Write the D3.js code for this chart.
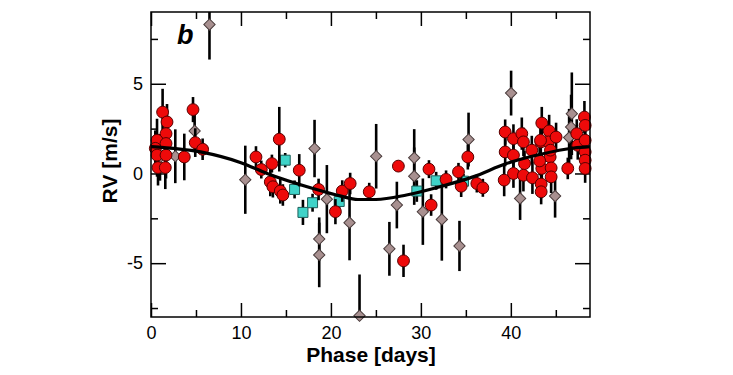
<!DOCTYPE html>
<html>
<head>
<meta charset="utf-8">
<script src="https://cdn.jsdelivr.net/npm/d3@7"></script>
<style>
  body { margin: 0; background: #fff; }
  text { font-family: Arial, "Liberation Sans", sans-serif; }
</style>
</head>
<body>
<svg id="chart" width="733" height="375"></svg>
<script>
// red circles (main data set)
var redPhase = [1.29, 1.78, 1.67, 0.67, 1.67, 0.48, 0.67, 1.67, 0.78, 1.59, 4.67, 4.92, 5.74, 3.7,
    11.67, 12.26, 14.26, 13.44, 13.26, 13.55, 14.37, 14.66, 16.48, 18.63, 20.5, 21.26, 22.14,
    24.26, 27.5, 28.07, 30.9, 31.14, 32.8, 34.18, 34.48, 35.22, 36.22, 36.89,
    39.37, 39.37, 39.26, 40.29, 40.29, 40.29, 41.22, 41.4, 41.52, 41.4, 42.33, 42.4,
    43.33, 43.44, 43.44, 43.37, 43.37, 44.26, 44.18, 44.37, 44.48, 44.48, 45.03, 46.33,
    47.33, 47.44, 48.18, 48.26, 48.26, 48.26, 48.26, 48.26, 43.3, 44.4, 43.2];
var redRV = [3.42, 2.87, 2.22, 1.85, 1.67, 1.4, 1.02, 1.02, 0.33, 0.33, 3.56, 1.72, 1.35, 0.92,
    0.92, 0.22, 1.91, 0.55, -0.47, -0.74, -0.98, -1.2, 0.18, -0.89, -2.13, -0.98, -0.56,
    -1.02, 0.41, -4.87, 0.24, -1.76, -0.33, 0.09, -0.71, 0.92, -0.56, -0.8,
    2.31, 1.2, -0.37, 1.94, 1.02, 0.0, 2.22, 1.76, 0.55, -0.1, 1.3, -0.24,
    1.76, 2.81, 0.28, -0.59, -1.02, 2.37, 1.76, 0.92, 0.31, -0.19, 2.03, 0.28,
    2.22, 1.57, 3.14, 2.68, 1.85, 1.2, 0.74, 0.28, 1.85, 1.3, 0.7];
var redErr = [1.3, 1.0, 1.1, 1.2, 1.1, 1.0, 1.2, 1.3, 1.0, 1.2, 0.7, 0.8, 0.6, 1.3,
    0.6, 0.5, 1.8, 0.5, 0.8, 0.6, 0.7, 0.6, 0.9, 0.6, 0.7, 0.6, 0.6,
    0.5, 0.3, 0.9, 0.5, 0.6, 0.5, 0.5, 0.6, 0.7, 0.5, 0.5,
    0.7, 0.8, 0.9, 0.8, 0.7, 0.8, 0.9, 0.8, 0.7, 0.9, 0.8, 0.9,
    0.8, 0.9, 0.8, 0.8, 0.7, 0.9, 0.8, 0.8, 0.8, 0.9, 0.8, 0.6,
    0.8, 0.8, 0.9, 0.8, 0.8, 0.8, 0.8, 0.8, 0.8, 0.8, 0.8];

// grey diamonds
var diaPhase = [6.5, 4.85, 2.7, 1.0, 10.48, 18.18, 19.55, 18.7, 18.7, 22.07, 23.18, 25.03, 26.5, 27.33,
    29.26, 29.26, 30.22, 32.33, 34.29, 35.3, 40.03, 41.03, 44.92, 46.78, 46.7, 46.48];
var diaRV = [8.3, 2.37, 0.96, 0.9, -0.35, 1.39, -1.43, -3.65, -4.54, -2.74, -7.93, 0.96, -4.2, -1.76,
    0.87, -0.15, -2.13, -2.56, -4.04, 1.89, 4.48, -1.39, -1.26, 3.33, 2.59, 2.0];
var diaErr = [1.95, 1.0, 1.5, 1.3, 1.9, 1.6, 1.9, 1.2, 1.8, 2.1, 2.3, 1.8, 1.5, 1.3,
    1.6, 1.6, 1.85, 2.3, 1.4, 1.5, 1.25, 1.2, 1.2, 2.3, 1.8, 1.6];

// cyan squares
var cyanPhase = [14.92, 15.96, 16.89, 17.96, 20.92, 29.55, 31.7, 34.74];
var cyanRV = [0.74, -0.89, -2.17, -1.63, -1.56, -0.98, -0.41, -0.43];
var cyanErr = [0.4, 0.5, 0.7, 0.5, 0.5, 0.6, 0.5, 0.4];

// model curve
var curvePhase = [0, 5.5, 10, 12.9, 18.1, 21, 23, 25, 28.4, 32.1, 35.8, 39.5, 43.3, 47, 48.8];
var curveRV = [1.5, 1.2, 0.6, 0.0, -0.85, -1.25, -1.45, -1.45, -1.2, -0.74, -0.19, 0.55, 1.07, 1.42, 1.5];

var xMajor = [0, 10, 20, 30, 40];
var xMinor = [5, 15, 25, 35, 45];
var yMajor = [-5, 0, 5];
var yMinor = [-7.5, -2.5, 2.5, 7.5];

var svg = d3.select("#chart");
var margin = {top: 12, right: 143, bottom: 58, left: 151};
var width = 733 - margin.left - margin.right;
var height = 375 - margin.top - margin.bottom;

var x = d3.scaleLinear().domain([0, 48.8]).range([0, width]);
var y = d3.scaleLinear().domain([-8, 9]).range([height, 0]);

var g = svg.append("g").attr("transform", "translate(" + margin.left + "," + margin.top + ")");

g.append("clipPath").attr("id", "clip")
    .append("rect").attr("width", width).attr("height", height);

function styleAxis(sel) {
    sel.select(".domain").remove();
    sel.selectAll(".tick line").attr("stroke", "#000").attr("stroke-width", 1.5);
    sel.selectAll(".tick text").attr("fill", "#000").style("font-size", "18px");
}

var plain = function(d) { return String(d); };   // keep the ascii hyphen

// bottom axis with labels
g.append("g").attr("transform", "translate(0," + height + ")")
    .call(d3.axisBottom(x).tickValues(xMajor).tickSizeInner(-14).tickSizeOuter(0).tickPadding(9).tickFormat(plain))
    .call(styleAxis);
g.append("g").attr("transform", "translate(0," + height + ")")
    .call(d3.axisBottom(x).tickValues(xMinor).tickSizeInner(-7).tickSizeOuter(0).tickFormat(""))
    .call(styleAxis);
// top axis
g.append("g")
    .call(d3.axisTop(x).tickValues(xMajor).tickSizeInner(-14).tickSizeOuter(0).tickFormat(""))
    .call(styleAxis);
g.append("g")
    .call(d3.axisTop(x).tickValues(xMinor).tickSizeInner(-7).tickSizeOuter(0).tickFormat(""))
    .call(styleAxis);
// left axis with labels
g.append("g")
    .call(d3.axisLeft(y).tickValues(yMajor).tickSizeInner(-15).tickSizeOuter(0).tickPadding(8).tickFormat(plain))
    .call(styleAxis);
g.append("g")
    .call(d3.axisLeft(y).tickValues(yMinor).tickSizeInner(-7).tickSizeOuter(0).tickFormat(""))
    .call(styleAxis);
// right axis
g.append("g").attr("transform", "translate(" + width + ",0)")
    .call(d3.axisRight(y).tickValues(yMajor).tickSizeInner(-15).tickSizeOuter(0).tickFormat(""))
    .call(styleAxis);
g.append("g").attr("transform", "translate(" + width + ",0)")
    .call(d3.axisRight(y).tickValues(yMinor).tickSizeInner(-7).tickSizeOuter(0).tickFormat(""))
    .call(styleAxis);

var plot = g.append("g");

function drawSeries(phase, rv, err, shape, fill, stroke, size, rot) {
    var d = phase.map(function(p, i) { return {p: p, v: rv[i], e: err[i]}; });
    plot.append("g").attr("clip-path", "url(#clip)")
        .selectAll("line").data(d).enter().append("line")
        .attr("x1", function(d) { return x(d.p); })
        .attr("x2", function(d) { return x(d.p); })
        .attr("y1", function(d) { return y(d.v - d.e); })
        .attr("y2", function(d) { return y(d.v + d.e); })
        .attr("stroke", "#000").attr("stroke-width", 2.6);
    plot.append("g").selectAll("path").data(d).enter().append("path")
        .attr("transform", function(d) { return "translate(" + x(d.p) + "," + y(d.v) + ") rotate(" + rot + ")"; })
        .attr("d", d3.symbol().type(shape).size(size))
        .attr("fill", fill).attr("stroke", stroke).attr("stroke-width", 1);
}

drawSeries(diaPhase, diaRV, diaErr, d3.symbolSquare, "#a89090", "#4a3c3c", 64, 45);
drawSeries(cyanPhase, cyanRV, cyanErr, d3.symbolSquare, "#3fd3c8", "#1f5f5a", 100, 0);
drawSeries(redPhase, redRV, redErr, d3.symbolCircle, "#ee0a0a", "#5a0000", 110, 0);

var curve = curvePhase.map(function(p, i) { return [p, curveRV[i]]; });
plot.append("path")
    .datum(curve)
    .attr("d", d3.line().x(function(d) { return x(d[0]); }).y(function(d) { return y(d[1]); })
        .curve(d3.curveMonotoneX))
    .attr("fill", "none").attr("stroke", "#000").attr("stroke-width", 3.2);

// frame
g.append("rect").attr("width", width).attr("height", height)
    .attr("fill", "none").attr("stroke", "#000").attr("stroke-width", 1.5);

// titles
svg.append("text")
    .attr("x", 371).attr("y", 362)
    .attr("text-anchor", "middle")
    .style("font-size", "21px").style("font-weight", "bold")
    .text("Phase [days]");
svg.append("text")
    .attr("transform", "translate(117,161) rotate(-90)")
    .attr("text-anchor", "middle")
    .style("font-size", "21px").style("font-weight", "bold")
    .text("RV [m/s]");
svg.append("text")
    .attr("x", 177).attr("y", 44)
    .style("font-size", "27px").style("font-weight", "bold").style("font-style", "italic")
    .text("b");
</script>
</body>
</html>
